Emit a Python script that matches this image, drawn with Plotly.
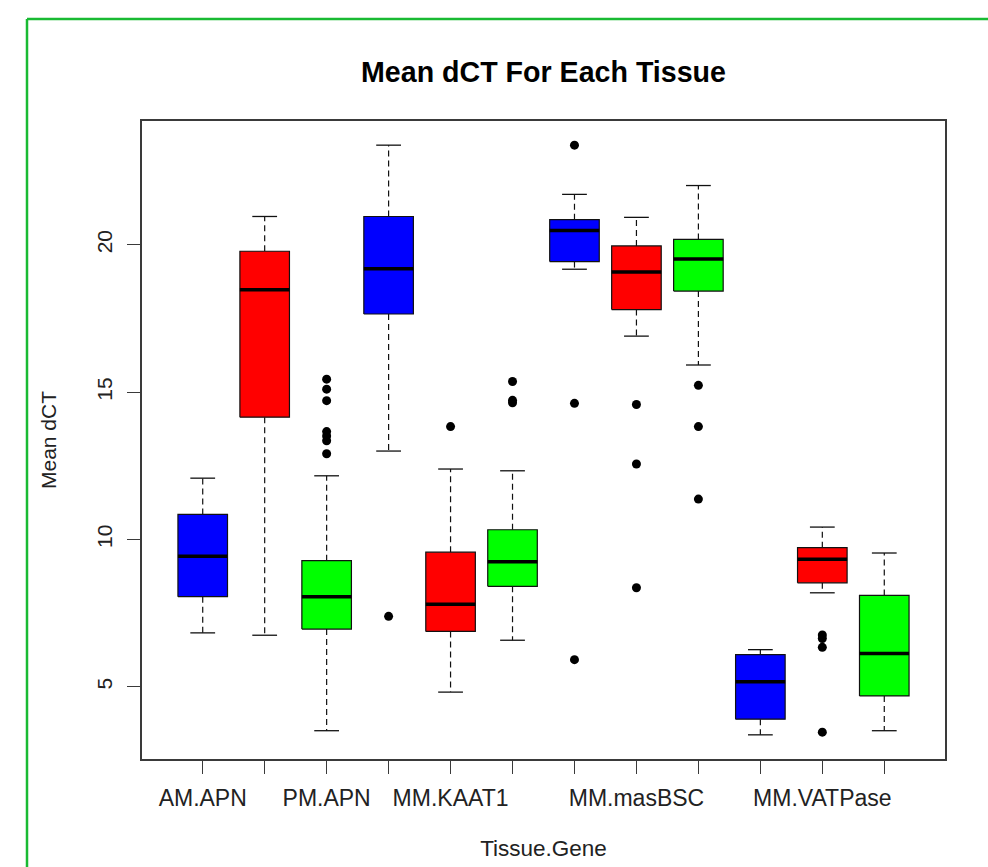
import plotly.graph_objects as go

# ---- data ----
categories = ["AM.APN", "MM.APN", "PM.APN", "AM.KAAT1", "MM.KAAT1", "PM.KAAT1",
              "AM.masBSC", "MM.masBSC", "PM.masBSC", "AM.VATPase", "MM.VATPase", "PM.VATPase"]
shown_labels = ["AM.APN", "PM.APN", "MM.KAAT1", "MM.masBSC", "MM.VATPase"]
box_colors = ["#0000FF", "#FF0000", "#00FF00"] * 4

lower_whisker = [6.83, 6.75, 3.51, 13.00, 4.82, 6.58, 19.17, 16.90, 15.92, 3.37, 8.19, 3.51]
q1_values     = [8.06, 14.15, 6.96, 17.65, 6.88, 8.41, 19.43, 17.80, 18.43, 3.90, 8.53, 4.69]
median_values = [9.43, 18.47, 8.06, 19.19, 7.80, 9.24, 20.48, 19.08, 19.52, 5.17, 9.33, 6.13]
q3_values     = [10.85, 19.78, 9.28, 20.96, 9.57, 10.33, 20.85, 19.96, 20.18, 6.09, 9.72, 8.10]
upper_whisker = [12.08, 20.96, 12.16, 23.38, 12.39, 12.33, 21.71, 20.93, 22.01, 6.26, 10.42, 9.54]

outlier_category = ["PM.APN"] * 7 + ["AM.KAAT1", "MM.KAAT1"] + ["PM.KAAT1"] * 3 + \
                   ["AM.masBSC"] * 3 + ["MM.masBSC"] * 3 + ["PM.masBSC"] * 3 + ["MM.VATPase"] * 4
outlier_values = [15.44, 15.10, 14.71, 13.66, 13.51, 13.35, 12.91,
                  7.39, 13.83,
                  15.36, 14.72, 14.64,
                  23.38, 14.62, 5.92,
                  14.58, 12.56, 8.36,
                  15.23, 13.83, 11.37,
                  6.76, 6.64, 6.34, 3.46]

y_ticks = [5, 10, 15, 20]

# ---- styling ----
BOX_HALF = 0.4
CAP_HALF = 0.2
FONT = "Arial, Liberation Sans, sans-serif"
AXIS_COLOR = "#3a3a3a"

pos = {c: i + 1 for i, c in enumerate(categories)}

fig = go.Figure()

# whiskers (dashed) and caps
wx, wy, cx, cy = [], [], [], []
for c, lo, a, b, hi in zip(categories, lower_whisker, q1_values, q3_values, upper_whisker):
    p = pos[c]
    wx += [p, p, None, p, p, None]
    wy += [b, hi, None, a, lo, None]
    cx += [p - CAP_HALF, p + CAP_HALF, None, p - CAP_HALF, p + CAP_HALF, None]
    cy += [hi, hi, None, lo, lo, None]
fig.add_trace(go.Scatter(x=wx, y=wy, mode="lines", hoverinfo="skip",
                         line=dict(color="#111111", width=1.2, dash="6px,4px"), showlegend=False))
fig.add_trace(go.Scatter(x=cx, y=cy, mode="lines", hoverinfo="skip",
                         line=dict(color="#111111", width=1.3), showlegend=False))

# boxes
for c, a, b, col in zip(categories, q1_values, q3_values, box_colors):
    p = pos[c]
    fig.add_trace(go.Scatter(
        x=[p - BOX_HALF, p + BOX_HALF, p + BOX_HALF, p - BOX_HALF, p - BOX_HALF],
        y=[a, a, b, b, a], mode="lines", fill="toself", fillcolor=col,
        line=dict(color="#111111", width=1.2), name=c, showlegend=False))

# medians
mx, my = [], []
for c, m in zip(categories, median_values):
    p = pos[c]
    mx += [p - BOX_HALF, p + BOX_HALF, None]
    my += [m, m, None]
fig.add_trace(go.Scatter(x=mx, y=my, mode="lines", hoverinfo="skip",
                         line=dict(color="#000000", width=3.5), showlegend=False))

# outliers
fig.add_trace(go.Scatter(x=[pos[c] for c in outlier_category], y=outlier_values,
                         mode="markers", marker=dict(color="#000000", size=9),
                         showlegend=False))

tick_text = [c if c in shown_labels else "" for c in categories]

fig.update_layout(
    width=988, height=867,
    margin=dict(l=142, r=43, t=121, b=108, pad=0, autoexpand=False),
    paper_bgcolor="white", plot_bgcolor="white",
    font=dict(family=FONT, color="#111111"),
    title=dict(text="<b>Mean dCT For Each Tissue</b>", font=dict(size=28.6, family=FONT, color="#000000"),
               x=543.5 / 988, xref="container", xanchor="center",
               y=1 - 72 / 867, yref="container", yanchor="middle"),
    xaxis=dict(range=[0.02, 12.98], tickmode="array", tickvals=list(range(1, 13)), ticktext=tick_text,
               ticks="outside", ticklen=13, tickwidth=1.3, tickcolor=AXIS_COLOR,
               ticklabelstandoff=5, automargin=False,
               showline=True, linecolor=AXIS_COLOR, linewidth=1.5, mirror=True,
               showgrid=False, zeroline=False,
               tickfont=dict(size=23, color="#222222"),
               title=dict(text="Tissue.Gene", font=dict(size=22.5, color="#222222"), standoff=30)),
    yaxis=dict(range=[2.55, 24.2], tickmode="array", tickvals=y_ticks,
               ticks="outside", ticklen=13, tickwidth=1.3, tickcolor=AXIS_COLOR,
               tickangle=-90, ticklabelstandoff=7, automargin=False,
               showline=True, linecolor=AXIS_COLOR, linewidth=1.5, mirror=True,
               showgrid=False, zeroline=False,
               tickfont=dict(size=21, color="#222222"),
               title=dict(text="Mean dCT", font=dict(size=21, color="#222222"), standoff=30)),
    shapes=[
        dict(type="line", xref="paper", yref="paper",
             x0=(27 - 142) / 803, x1=(990 - 142) / 803, y0=1 + (121 - 19) / 638, y1=1 + (121 - 19) / 638,
             line=dict(color="#19BA33", width=2.5)),
        dict(type="line", xref="paper", yref="paper",
             x0=(27 - 142) / 803, x1=(27 - 142) / 803, y0=1 + (121 - 19) / 638, y1=-(110) / 638,
             line=dict(color="#19BA33", width=2.5)),
    ],
)

fig.write_html("out.html")
